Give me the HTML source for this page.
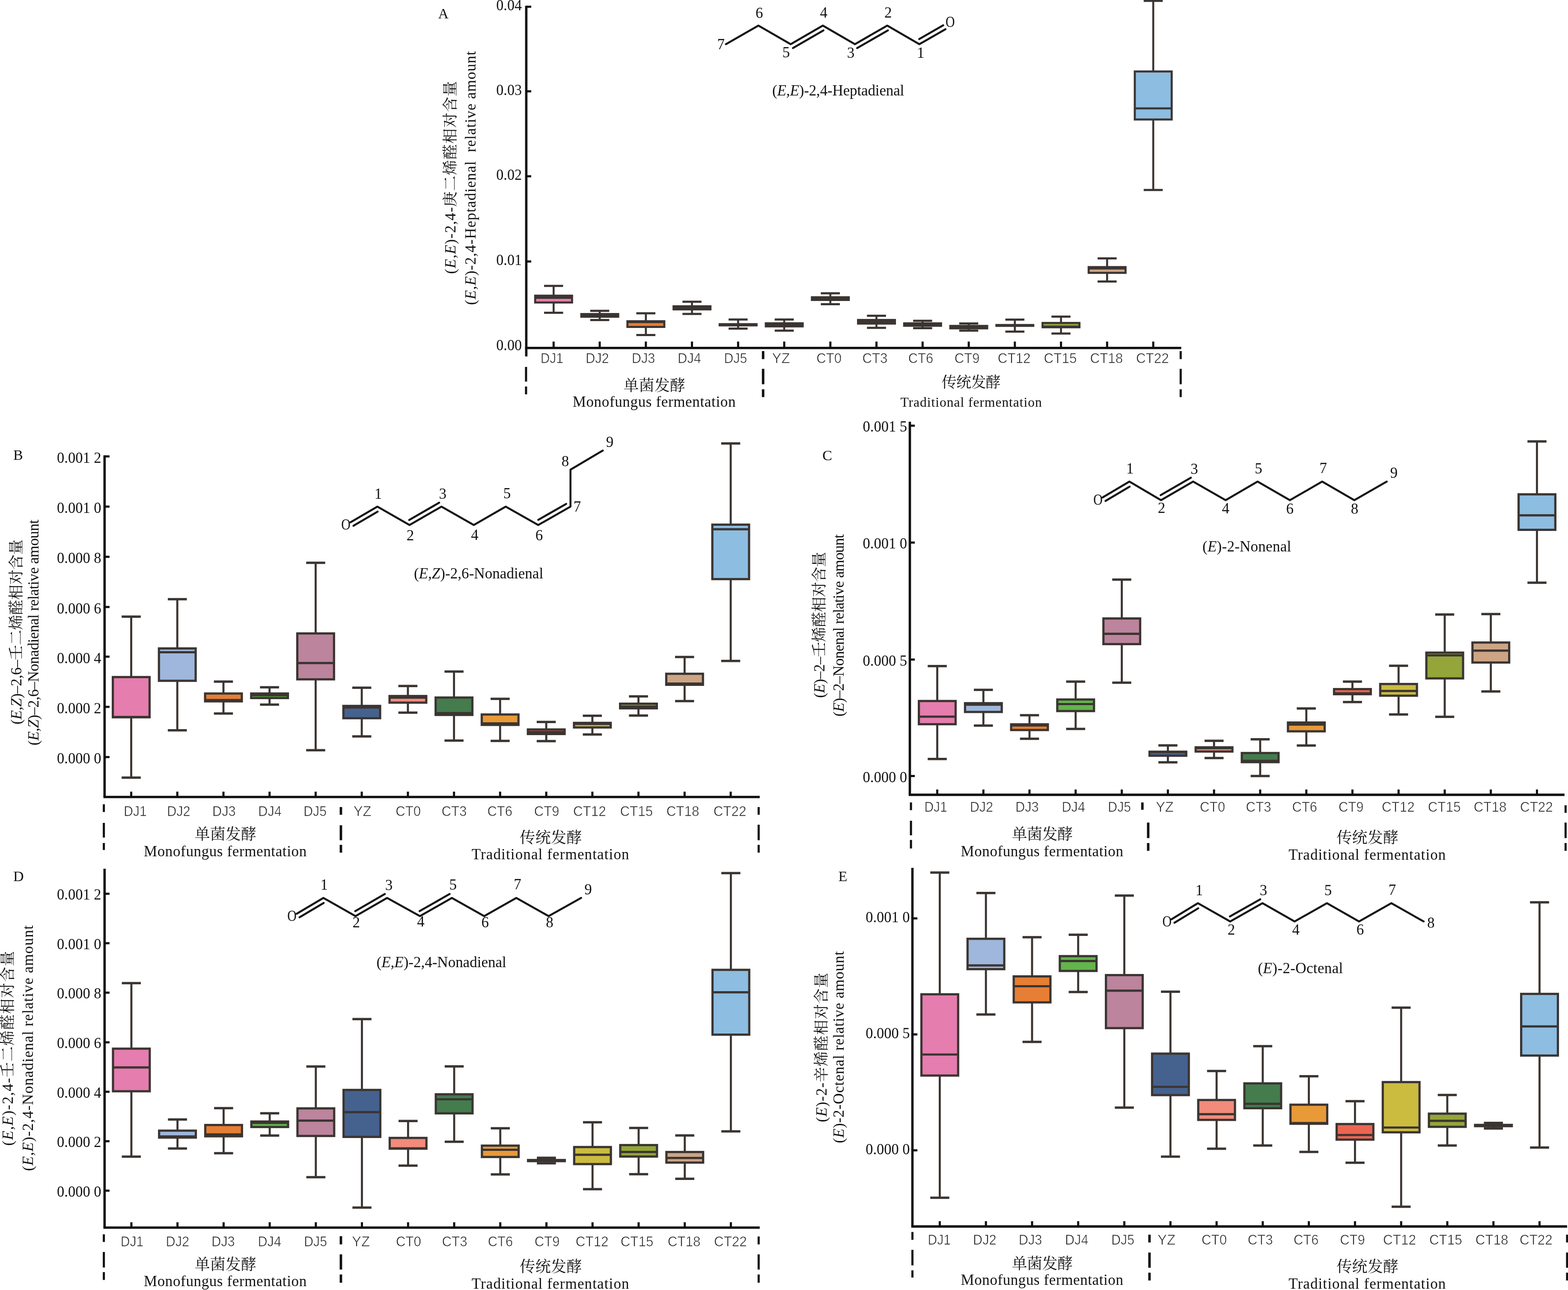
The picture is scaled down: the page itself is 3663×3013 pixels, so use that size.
<!DOCTYPE html>
<html lang="zh"><head><meta charset="utf-8"><title>Figure</title>
<style>html,body{margin:0;padding:0;background:#fff}body{width:3663px;height:3013px;overflow:hidden}svg{display:block}.s{font-family:'Liberation Serif','Noto Serif CJK SC',serif}.n{font-family:'Liberation Sans','Noto Sans CJK SC',sans-serif}text{white-space:pre}</style></head><body>
<svg width="3663" height="3013" viewBox="0 0 3663 3013">
<rect width="3663" height="3013" fill="#fff"/>
<g>
<path d="M1293.3 667.8V730.6" stroke="#3b3532" stroke-width="4.6" fill="none"/><path d="M1271 667.8H1315.5M1271 730.6H1315.5" stroke="#3b3532" stroke-width="5" fill="none"/><rect x="1250.2" y="690.6" width="86.2" height="15.9" fill="#e57dae" stroke="#3b3532" stroke-width="4.8"/><path d="M1250.2 695.5H1336.4" stroke="#3b3532" stroke-width="4.8"/>
<path d="M1401 726V747.4" stroke="#3b3532" stroke-width="4.6" fill="none"/><path d="M1378.8 726H1423.3M1378.8 747.4H1423.3" stroke="#3b3532" stroke-width="5" fill="none"/><rect x="1358" y="733.5" width="86.2" height="6.3" fill="#3b3532" stroke="#3b3532" stroke-width="4.8"/>
<path d="M1508.8 731.7V782.5" stroke="#3b3532" stroke-width="4.6" fill="none"/><path d="M1486.5 731.7H1531M1486.5 782.5H1531" stroke="#3b3532" stroke-width="5" fill="none"/><rect x="1465.7" y="750.3" width="86.2" height="13.3" fill="#e67e35" stroke="#3b3532" stroke-width="4.8"/><path d="M1465.7 752.3H1551.9" stroke="#3b3532" stroke-width="4.8"/>
<path d="M1616.5 704.7V733.3" stroke="#3b3532" stroke-width="4.6" fill="none"/><path d="M1594.3 704.7H1638.8M1594.3 733.3H1638.8" stroke="#3b3532" stroke-width="5" fill="none"/><rect x="1573.5" y="715.4" width="86.2" height="7.2" fill="#3b3532" stroke="#3b3532" stroke-width="4.8"/>
<path d="M1724.3 746.3V767.4" stroke="#3b3532" stroke-width="4.6" fill="none"/><path d="M1702 746.3H1746.5M1702 767.4H1746.5" stroke="#3b3532" stroke-width="5" fill="none"/><rect x="1678.8" y="754.7" width="91" height="7.7" fill="#3b3532"/>
<path d="M1832 746.3V772.2" stroke="#3b3532" stroke-width="4.6" fill="none"/><path d="M1809.8 746.3H1854.3M1809.8 772.2H1854.3" stroke="#3b3532" stroke-width="5" fill="none"/><rect x="1789" y="755.1" width="86.2" height="7.2" fill="#3b3532" stroke="#3b3532" stroke-width="4.8"/>
<path d="M1939.8 685V710.6" stroke="#3b3532" stroke-width="4.6" fill="none"/><path d="M1917.5 685H1962M1917.5 710.6H1962" stroke="#3b3532" stroke-width="5" fill="none"/><rect x="1896.7" y="694.3" width="86.2" height="6.3" fill="#3b3532" stroke="#3b3532" stroke-width="4.8"/>
<path d="M2047.5 737.6V765.8" stroke="#3b3532" stroke-width="4.6" fill="none"/><path d="M2025.3 737.6H2069.8M2025.3 765.8H2069.8" stroke="#3b3532" stroke-width="5" fill="none"/><rect x="2004.5" y="747.3" width="86.2" height="8.5" fill="#3b3532" stroke="#3b3532" stroke-width="4.8"/>
<path d="M2155.3 749.3V766.4" stroke="#3b3532" stroke-width="4.6" fill="none"/><path d="M2133.1 749.3H2177.6M2133.1 766.4H2177.6" stroke="#3b3532" stroke-width="5" fill="none"/><rect x="2112.2" y="755.2" width="86.2" height="5.7" fill="#3b3532" stroke="#3b3532" stroke-width="4.8"/>
<path d="M2263.1 755.5V772.3" stroke="#3b3532" stroke-width="4.6" fill="none"/><path d="M2240.8 755.5H2285.3M2240.8 772.3H2285.3" stroke="#3b3532" stroke-width="5" fill="none"/><rect x="2220" y="761.2" width="86.2" height="5.7" fill="#3b3532" stroke="#3b3532" stroke-width="4.8"/>
<path d="M2370.8 746.5V774.4" stroke="#3b3532" stroke-width="4.6" fill="none"/><path d="M2348.6 746.5H2393.1M2348.6 774.4H2393.1" stroke="#3b3532" stroke-width="5" fill="none"/><rect x="2325.3" y="756.7" width="91" height="6.8" fill="#3b3532"/>
<path d="M2478.6 739.5V779" stroke="#3b3532" stroke-width="4.6" fill="none"/><path d="M2456.3 739.5H2500.8M2456.3 779H2500.8" stroke="#3b3532" stroke-width="5" fill="none"/><rect x="2435.5" y="754.3" width="86.2" height="10.1" fill="#94a53a" stroke="#3b3532" stroke-width="4.8"/><path d="M2435.5 763H2521.7" stroke="#3b3532" stroke-width="4.8"/>
<path d="M2586.3 603.5V657.6" stroke="#3b3532" stroke-width="4.6" fill="none"/><path d="M2564.1 603.5H2608.6M2564.1 657.6H2608.6" stroke="#3b3532" stroke-width="5" fill="none"/><rect x="2543.2" y="623.8" width="86.2" height="13.5" fill="#cda585" stroke="#3b3532" stroke-width="4.8"/><path d="M2543.2 627.1H2629.4" stroke="#3b3532" stroke-width="4.8"/>
<path d="M2694.1 2.1V443.7" stroke="#3b3532" stroke-width="4.6" fill="none"/><path d="M2671.8 2.1H2716.3M2671.8 443.7H2716.3" stroke="#3b3532" stroke-width="5" fill="none"/><rect x="2651" y="166.9" width="86.2" height="112.2" fill="#8dbde1" stroke="#3b3532" stroke-width="4.8"/><path d="M2651 253.2H2737.2" stroke="#3b3532" stroke-width="4.8"/>
<path d="M1229.4 13.6V832.4" stroke="#111111" stroke-width="5.6" fill="none"/>
<path d="M1226.7 812.8H2759.5" stroke="#111111" stroke-width="5.6" fill="none"/>
<path d="M1229.4 15.8H1241M1229.4 213.2H1241M1229.4 411.8H1241M1229.4 610.7H1241" stroke="#111111" stroke-width="5.0" fill="none"/>
<text class="s" x="1219" y="24.4" font-size="35.5" text-anchor="end" textLength="59.7" lengthAdjust="spacingAndGlyphs" fill="#111">0.04</text>
<text class="s" x="1219" y="221.8" font-size="35.5" text-anchor="end" textLength="59.7" lengthAdjust="spacingAndGlyphs" fill="#111">0.03</text>
<text class="s" x="1219" y="420.4" font-size="35.5" text-anchor="end" textLength="59.7" lengthAdjust="spacingAndGlyphs" fill="#111">0.02</text>
<text class="s" x="1219" y="619.3" font-size="35.5" text-anchor="end" textLength="59.7" lengthAdjust="spacingAndGlyphs" fill="#111">0.01</text>
<text class="s" x="1219" y="817.6" font-size="35.5" text-anchor="end" textLength="59.7" lengthAdjust="spacingAndGlyphs" fill="#111">0.00</text>
<path d="M1293.3 797.7V812.8M1401 797.7V812.8M1508.8 797.7V812.8M1616.5 797.7V812.8M1724.3 797.7V812.8M1832 797.7V812.8M1939.8 797.7V812.8M2047.5 797.7V812.8M2155.3 797.7V812.8M2263.1 797.7V812.8M2370.8 797.7V812.8M2478.6 797.7V812.8M2586.3 797.7V812.8M2694.1 797.7V812.8" stroke="#111111" stroke-width="5.0" fill="none"/>
<text class="n" x="1289.3" y="848" font-size="32.5" text-anchor="middle" textLength="53.3" lengthAdjust="spacingAndGlyphs" fill="#262626" stroke="#fff" stroke-width="0.7">DJ1</text>
<text class="n" x="1395.4" y="848" font-size="32.5" text-anchor="middle" textLength="54.5" lengthAdjust="spacingAndGlyphs" fill="#262626" stroke="#fff" stroke-width="0.7">DJ2</text>
<text class="n" x="1503.1" y="848" font-size="32.5" text-anchor="middle" textLength="54.5" lengthAdjust="spacingAndGlyphs" fill="#262626" stroke="#fff" stroke-width="0.7">DJ3</text>
<text class="n" x="1610.5" y="848" font-size="32.5" text-anchor="middle" textLength="54.5" lengthAdjust="spacingAndGlyphs" fill="#262626" stroke="#fff" stroke-width="0.7">DJ4</text>
<text class="n" x="1718.4" y="848" font-size="32.5" text-anchor="middle" textLength="53.7" lengthAdjust="spacingAndGlyphs" fill="#262626" stroke="#fff" stroke-width="0.7">DJ5</text>
<text class="n" x="1824.5" y="848" font-size="32.5" text-anchor="middle" textLength="42" lengthAdjust="spacingAndGlyphs" fill="#262626" stroke="#fff" stroke-width="0.7">YZ</text>
<text class="n" x="1936.7" y="848" font-size="32.5" text-anchor="middle" textLength="59" lengthAdjust="spacingAndGlyphs" fill="#262626" stroke="#fff" stroke-width="0.7">CT0</text>
<text class="n" x="2043.9" y="848" font-size="32.5" text-anchor="middle" textLength="59" lengthAdjust="spacingAndGlyphs" fill="#262626" stroke="#fff" stroke-width="0.7">CT3</text>
<text class="n" x="2150.9" y="848" font-size="32.5" text-anchor="middle" textLength="58.5" lengthAdjust="spacingAndGlyphs" fill="#262626" stroke="#fff" stroke-width="0.7">CT6</text>
<text class="n" x="2259.2" y="848" font-size="32.5" text-anchor="middle" textLength="58.7" lengthAdjust="spacingAndGlyphs" fill="#262626" stroke="#fff" stroke-width="0.7">CT9</text>
<text class="n" x="2369.2" y="848" font-size="32.5" text-anchor="middle" textLength="76.8" lengthAdjust="spacingAndGlyphs" fill="#262626" stroke="#fff" stroke-width="0.7">CT12</text>
<text class="n" x="2477" y="848" font-size="32.5" text-anchor="middle" textLength="76.8" lengthAdjust="spacingAndGlyphs" fill="#262626" stroke="#fff" stroke-width="0.7">CT15</text>
<text class="n" x="2584.9" y="848" font-size="32.5" text-anchor="middle" textLength="76.8" lengthAdjust="spacingAndGlyphs" fill="#262626" stroke="#fff" stroke-width="0.7">CT18</text>
<text class="n" x="2692.3" y="848" font-size="32.5" text-anchor="middle" textLength="76.8" lengthAdjust="spacingAndGlyphs" fill="#262626" stroke="#fff" stroke-width="0.7">CT22</text>
<path d="M1228.9 857.1V891.3M1228.9 902.8V921.1" stroke="#111111" stroke-width="5" fill="none"/>
<path d="M1782.7 820.1V838.8M1782.7 861.4V897.6M1782.7 909.2V927.5" stroke="#111111" stroke-width="5.8" fill="none"/>
<path d="M2758.2 820.1V838.8M2758.2 861.4V897.6M2758.2 909.2V927.5" stroke="#111111" stroke-width="5" fill="none"/>
<text class="s" x="1456.2" y="912.5" font-size="36" textLength="144.9" lengthAdjust="spacing" fill="#111">单菌发酵</text>
<text class="s" x="1337.7" y="949.7" font-size="35" textLength="380.7" lengthAdjust="spacing" fill="#111">Monofungus fermentation</text>
<text class="s" x="2199.7" y="904.5" font-size="35" textLength="138.1" lengthAdjust="spacing" fill="#111">传统发酵</text>
<text class="s" x="2103.4" y="949.7" font-size="31.5" textLength="330.4" lengthAdjust="spacing" fill="#111">Traditional fermentation</text>
<text class="s" x="1023.4" y="42.6" font-size="34" fill="#111">A</text>
<path d="M1695.8 103.2 L1771.7 59.7 L1847.1 103.2 L1922.2 59.7 L1997.2 103.2 L2072.7 59.7 L2147.7 103.2 L2208.7 68.2" stroke="#151515" stroke-width="4.6" fill="none" stroke-linejoin="round" stroke-linecap="round"/>
<path d="M1852.4 112.3L1923.7 71" stroke="#151515" stroke-width="4.6" fill="none" stroke-linecap="round"/>
<path d="M2002.4 112.3L2074.2 71" stroke="#151515" stroke-width="4.6" fill="none" stroke-linecap="round"/>
<path d="M2147.4 91.3L2203.5 59.1" stroke="#151515" stroke-width="4.6" fill="none" stroke-linecap="round"/>
<text class="s" x="1684.3" y="115.2" font-size="35" text-anchor="middle" fill="#111">7</text>
<text class="s" x="1773.8" y="41.9" font-size="35" text-anchor="middle" fill="#111">6</text>
<text class="s" x="1836.5" y="133.5" font-size="35" text-anchor="middle" fill="#111">5</text>
<text class="s" x="1924.3" y="40.6" font-size="35" text-anchor="middle" fill="#111">4</text>
<text class="s" x="1987.4" y="134.8" font-size="35" text-anchor="middle" fill="#111">3</text>
<text class="s" x="2074.8" y="40.6" font-size="35" text-anchor="middle" fill="#111">2</text>
<text class="s" x="2150.7" y="134.8" font-size="35" text-anchor="middle" fill="#111">1</text>
<text class="s" x="2219.7" y="62.6" font-size="35" text-anchor="middle" textLength="21.5" lengthAdjust="spacingAndGlyphs" fill="#111">O</text>
<text class="s" x="1804.1" y="222.5" font-size="35" textLength="308.2" lengthAdjust="spacing" fill="#111">(<tspan font-style="italic">E,E</tspan>)-2,4-Heptadienal</text>
<text class="s" transform="translate(1063.8 639.7) rotate(-90)" font-size="35.5" textLength="450.3" lengthAdjust="spacing" fill="#111">(<tspan font-style="italic">E,E</tspan>)-2,4-<tspan font-size="35.5">庚二烯醛相对含量</tspan></text>
<text class="s" transform="translate(1111 712.2) rotate(-90)" font-size="35.5" textLength="592.8" lengthAdjust="spacing" fill="#111">(<tspan font-style="italic">E,E</tspan>)-2,4-Heptadienal  relative amount</text>
</g>
<g>
<path d="M306.5 1440.3V1816.2" stroke="#3b3532" stroke-width="4.8" fill="none"/><path d="M284.2 1440.3H328.8M284.2 1816.2H328.8" stroke="#3b3532" stroke-width="5.5" fill="none"/><rect x="263.6" y="1581.4" width="85.8" height="93.9" fill="#e57dae" stroke="#3b3532" stroke-width="5.2"/><path d="M263.6 1674.5H349.4" stroke="#3b3532" stroke-width="5.2"/>
<path d="M414.2 1399.4V1705.8" stroke="#3b3532" stroke-width="4.8" fill="none"/><path d="M392 1399.4H436.5M392 1705.8H436.5" stroke="#3b3532" stroke-width="5.5" fill="none"/><rect x="371.3" y="1514.5" width="85.8" height="75.6" fill="#9fb7dc" stroke="#3b3532" stroke-width="5.2"/><path d="M371.3 1523.4H457.1" stroke="#3b3532" stroke-width="5.2"/>
<path d="M522 1592.1V1666.6" stroke="#3b3532" stroke-width="4.8" fill="none"/><path d="M499.7 1592.1H544.2M499.7 1666.6H544.2" stroke="#3b3532" stroke-width="5.5" fill="none"/><rect x="479.1" y="1619.8" width="85.8" height="18.3" fill="#e67e35" stroke="#3b3532" stroke-width="5.2"/><path d="M479.1 1635H564.9" stroke="#3b3532" stroke-width="5.2"/>
<path d="M629.7 1605.3V1645.7" stroke="#3b3532" stroke-width="4.8" fill="none"/><path d="M607.4 1605.3H651.9M607.4 1645.7H651.9" stroke="#3b3532" stroke-width="5.5" fill="none"/><rect x="586.8" y="1619.8" width="85.8" height="10.6" fill="#62b54b" stroke="#3b3532" stroke-width="5.2"/><path d="M586.8 1624H672.6" stroke="#3b3532" stroke-width="5.2"/>
<path d="M737.4 1314.5V1752.3" stroke="#3b3532" stroke-width="4.8" fill="none"/><path d="M715.2 1314.5H759.7M715.2 1752.3H759.7" stroke="#3b3532" stroke-width="5.5" fill="none"/><rect x="694.5" y="1479.5" width="85.8" height="107.2" fill="#bc849d" stroke="#3b3532" stroke-width="5.2"/><path d="M694.5 1548.6H780.3" stroke="#3b3532" stroke-width="5.2"/>
<path d="M845.1 1606.2V1719.9" stroke="#3b3532" stroke-width="4.8" fill="none"/><path d="M822.9 1606.2H867.4M822.9 1719.9H867.4" stroke="#3b3532" stroke-width="5.5" fill="none"/><rect x="802.2" y="1648.8" width="85.8" height="28.7" fill="#45628f" stroke="#3b3532" stroke-width="5.2"/><path d="M802.2 1652.3H888" stroke="#3b3532" stroke-width="5.2"/>
<path d="M952.9 1602.3V1664.4" stroke="#3b3532" stroke-width="4.8" fill="none"/><path d="M930.6 1602.3H975.1M930.6 1664.4H975.1" stroke="#3b3532" stroke-width="5.5" fill="none"/><rect x="910" y="1625.7" width="85.8" height="15.4" fill="#f28b7b" stroke="#3b3532" stroke-width="5.2"/><path d="M910 1629.5H995.8" stroke="#3b3532" stroke-width="5.2"/>
<path d="M1060.6 1568.6V1729.7" stroke="#3b3532" stroke-width="4.8" fill="none"/><path d="M1038.4 1568.6H1082.9M1038.4 1729.7H1082.9" stroke="#3b3532" stroke-width="5.5" fill="none"/><rect x="1017.7" y="1629.2" width="85.8" height="40.6" fill="#447c4d" stroke="#3b3532" stroke-width="5.2"/><path d="M1017.7 1665.7H1103.5" stroke="#3b3532" stroke-width="5.2"/>
<path d="M1168.3 1632.2V1730.5" stroke="#3b3532" stroke-width="4.8" fill="none"/><path d="M1146.1 1632.2H1190.6M1146.1 1730.5H1190.6" stroke="#3b3532" stroke-width="5.5" fill="none"/><rect x="1125.4" y="1668.8" width="85.8" height="24.3" fill="#e99a38" stroke="#3b3532" stroke-width="5.2"/><path d="M1125.4 1689.5H1211.2" stroke="#3b3532" stroke-width="5.2"/>
<path d="M1276.1 1686.3V1730.9" stroke="#3b3532" stroke-width="4.8" fill="none"/><path d="M1253.8 1686.3H1298.3M1253.8 1730.9H1298.3" stroke="#3b3532" stroke-width="5.5" fill="none"/><rect x="1233.2" y="1703.8" width="85.8" height="10.6" fill="#ec6552" stroke="#3b3532" stroke-width="5.2"/><path d="M1233.2 1709.9H1319" stroke="#3b3532" stroke-width="5.2"/>
<path d="M1383.8 1671.8V1715.6" stroke="#3b3532" stroke-width="4.8" fill="none"/><path d="M1361.5 1671.8H1406M1361.5 1715.6H1406" stroke="#3b3532" stroke-width="5.5" fill="none"/><rect x="1340.9" y="1688.4" width="85.8" height="10.7" fill="#cbbb3f" stroke="#3b3532" stroke-width="5.2"/><path d="M1340.9 1690.9H1426.7" stroke="#3b3532" stroke-width="5.2"/>
<path d="M1491.5 1626.6V1671.3" stroke="#3b3532" stroke-width="4.8" fill="none"/><path d="M1469.3 1626.6H1513.8M1469.3 1671.3H1513.8" stroke="#3b3532" stroke-width="5.5" fill="none"/><rect x="1448.6" y="1643.6" width="85.8" height="10.8" fill="#94a53a" stroke="#3b3532" stroke-width="5.2"/><path d="M1448.6 1650.3H1534.4" stroke="#3b3532" stroke-width="5.2"/>
<path d="M1599.3 1534.5V1637.6" stroke="#3b3532" stroke-width="4.8" fill="none"/><path d="M1577 1534.5H1621.5M1577 1637.6H1621.5" stroke="#3b3532" stroke-width="5.5" fill="none"/><rect x="1556.4" y="1573.7" width="85.8" height="25.7" fill="#cda585" stroke="#3b3532" stroke-width="5.2"/><path d="M1556.4 1596.5H1642.2" stroke="#3b3532" stroke-width="5.2"/>
<path d="M1707 1035.7V1543.8" stroke="#3b3532" stroke-width="4.8" fill="none"/><path d="M1684.7 1035.7H1729.2M1684.7 1543.8H1729.2" stroke="#3b3532" stroke-width="5.5" fill="none"/><rect x="1664.1" y="1225.4" width="85.8" height="127.2" fill="#8dbde1" stroke="#3b3532" stroke-width="5.2"/><path d="M1664.1 1236.1H1749.9" stroke="#3b3532" stroke-width="5.2"/>
<path d="M244.3 1063.6V1861.5" stroke="#111111" stroke-width="5.6" fill="none"/>
<path d="M241.6 1861.5H1774.8" stroke="#111111" stroke-width="5.6" fill="none"/>
<path d="M244.3 1066H255.9M244.3 1183.2H255.9M244.3 1300.4H255.9M244.3 1417.7H255.9M244.3 1533.7H255.9M244.3 1650.9H255.9M244.3 1768.2H255.9" stroke="#111111" stroke-width="5.0" fill="none"/>
<text class="s" x="236.6" y="1081" font-size="35.5" text-anchor="end" textLength="103.6" lengthAdjust="spacingAndGlyphs" fill="#111">0.001 2</text>
<text class="s" x="236.6" y="1198.2" font-size="35.5" text-anchor="end" textLength="103.6" lengthAdjust="spacingAndGlyphs" fill="#111">0.001 0</text>
<text class="s" x="236.6" y="1315.4" font-size="35.5" text-anchor="end" textLength="103.6" lengthAdjust="spacingAndGlyphs" fill="#111">0.000 8</text>
<text class="s" x="236.6" y="1432.7" font-size="35.5" text-anchor="end" textLength="103.6" lengthAdjust="spacingAndGlyphs" fill="#111">0.000 6</text>
<text class="s" x="236.6" y="1548.7" font-size="35.5" text-anchor="end" textLength="103.6" lengthAdjust="spacingAndGlyphs" fill="#111">0.000 4</text>
<text class="s" x="236.6" y="1665.9" font-size="35.5" text-anchor="end" textLength="103.6" lengthAdjust="spacingAndGlyphs" fill="#111">0.000 2</text>
<text class="s" x="236.6" y="1783.2" font-size="35.5" text-anchor="end" textLength="103.6" lengthAdjust="spacingAndGlyphs" fill="#111">0.000 0</text>
<path d="M306.5 1849.1V1861.5M414.2 1849.1V1861.5M522 1849.1V1861.5M629.7 1849.1V1861.5M737.4 1849.1V1861.5M845.1 1849.1V1861.5M952.9 1849.1V1861.5M1060.6 1849.1V1861.5M1168.3 1849.1V1861.5M1276.1 1849.1V1861.5M1383.8 1849.1V1861.5M1491.5 1849.1V1861.5M1599.3 1849.1V1861.5M1707 1849.1V1861.5" stroke="#111111" stroke-width="5.0" fill="none"/>
<text class="n" x="315.9" y="1905.7" font-size="32.5" text-anchor="middle" textLength="53.3" lengthAdjust="spacingAndGlyphs" fill="#262626" stroke="#fff" stroke-width="0.7">DJ1</text>
<text class="n" x="417.4" y="1905.7" font-size="32.5" text-anchor="middle" textLength="54.5" lengthAdjust="spacingAndGlyphs" fill="#262626" stroke="#fff" stroke-width="0.7">DJ2</text>
<text class="n" x="523.3" y="1905.7" font-size="32.5" text-anchor="middle" textLength="54.5" lengthAdjust="spacingAndGlyphs" fill="#262626" stroke="#fff" stroke-width="0.7">DJ3</text>
<text class="n" x="630.5" y="1905.7" font-size="32.5" text-anchor="middle" textLength="54.5" lengthAdjust="spacingAndGlyphs" fill="#262626" stroke="#fff" stroke-width="0.7">DJ4</text>
<text class="n" x="736.1" y="1905.7" font-size="32.5" text-anchor="middle" textLength="53.7" lengthAdjust="spacingAndGlyphs" fill="#262626" stroke="#fff" stroke-width="0.7">DJ5</text>
<text class="n" x="846.7" y="1905.7" font-size="32.5" text-anchor="middle" textLength="42" lengthAdjust="spacingAndGlyphs" fill="#262626" stroke="#fff" stroke-width="0.7">YZ</text>
<text class="n" x="953.7" y="1905.7" font-size="32.5" text-anchor="middle" textLength="59" lengthAdjust="spacingAndGlyphs" fill="#262626" stroke="#fff" stroke-width="0.7">CT0</text>
<text class="n" x="1060.9" y="1905.7" font-size="32.5" text-anchor="middle" textLength="59" lengthAdjust="spacingAndGlyphs" fill="#262626" stroke="#fff" stroke-width="0.7">CT3</text>
<text class="n" x="1167.7" y="1905.7" font-size="32.5" text-anchor="middle" textLength="58.5" lengthAdjust="spacingAndGlyphs" fill="#262626" stroke="#fff" stroke-width="0.7">CT6</text>
<text class="n" x="1277.1" y="1905.7" font-size="32.5" text-anchor="middle" textLength="58.7" lengthAdjust="spacingAndGlyphs" fill="#262626" stroke="#fff" stroke-width="0.7">CT9</text>
<text class="n" x="1377.3" y="1905.7" font-size="32.5" text-anchor="middle" textLength="76.8" lengthAdjust="spacingAndGlyphs" fill="#262626" stroke="#fff" stroke-width="0.7">CT12</text>
<text class="n" x="1486.8" y="1905.7" font-size="32.5" text-anchor="middle" textLength="76.8" lengthAdjust="spacingAndGlyphs" fill="#262626" stroke="#fff" stroke-width="0.7">CT15</text>
<text class="n" x="1595.1" y="1905.7" font-size="32.5" text-anchor="middle" textLength="76.8" lengthAdjust="spacingAndGlyphs" fill="#262626" stroke="#fff" stroke-width="0.7">CT18</text>
<text class="n" x="1705.1" y="1905.7" font-size="32.5" text-anchor="middle" textLength="76.8" lengthAdjust="spacingAndGlyphs" fill="#262626" stroke="#fff" stroke-width="0.7">CT22</text>
<path d="M242.6 1878.6V1896.5M242.6 1922.1V1956.2M242.6 1969V1985.2" stroke="#111111" stroke-width="5" fill="none"/>
<path d="M796.4 1885V1902.9M796.4 1927.6V1962.6M796.4 1973.2V1991.6" stroke="#111111" stroke-width="5.8" fill="none"/>
<path d="M1772.3 1885V1902.9M1772.3 1926.3V1962.6M1772.3 1973.2V1991.6" stroke="#111111" stroke-width="5" fill="none"/>
<text class="s" x="454.5" y="1961" font-size="36" textLength="144.5" lengthAdjust="spacing" fill="#111">单菌发酵</text>
<text class="s" x="336" y="1999.7" font-size="35" textLength="380.2" lengthAdjust="spacing" fill="#111">Monofungus fermentation</text>
<text class="s" x="1214.2" y="1968.5" font-size="36" textLength="145.4" lengthAdjust="spacing" fill="#111">传统发酵</text>
<text class="s" x="1101.7" y="2007.3" font-size="35" textLength="367.9" lengthAdjust="spacing" fill="#111">Traditional fermentation</text>
<text class="s" x="31" y="1073.6" font-size="34" fill="#111">B</text>
<path d="M819.1 1219.8 L881.6 1183.2 L956.7 1226.3 L1031.3 1183.2 L1106.8 1226.3 L1181.4 1183.2 L1257.3 1226.3 L1332.7 1183.2 L1332.7 1097.1 L1408.2 1052.3" stroke="#151515" stroke-width="4.6" fill="none" stroke-linejoin="round" stroke-linecap="round"/>
<path d="M825.7 1228.1L882.2 1195" stroke="#151515" stroke-width="4.6" fill="none" stroke-linecap="round"/>
<path d="M955.9 1214.6L1026 1174.1" stroke="#151515" stroke-width="4.6" fill="none" stroke-linecap="round"/>
<path d="M1257.4 1214.2L1322.6 1176.9" stroke="#151515" stroke-width="4.6" fill="none" stroke-linecap="round"/>
<text class="s" x="883.4" y="1164.5" font-size="35" text-anchor="middle" fill="#111">1</text>
<text class="s" x="808" y="1236.6" font-size="35" text-anchor="middle" textLength="21.5" lengthAdjust="spacingAndGlyphs" fill="#111">O</text>
<text class="s" x="958.4" y="1261.7" font-size="35" text-anchor="middle" fill="#111">2</text>
<text class="s" x="1034.3" y="1165.4" font-size="35" text-anchor="middle" fill="#111">3</text>
<text class="s" x="1108.9" y="1260.9" font-size="35" text-anchor="middle" fill="#111">4</text>
<text class="s" x="1184.4" y="1163.7" font-size="35" text-anchor="middle" fill="#111">5</text>
<text class="s" x="1259.4" y="1261.7" font-size="35" text-anchor="middle" fill="#111">6</text>
<text class="s" x="1348.5" y="1195.2" font-size="35" text-anchor="middle" fill="#111">7</text>
<text class="s" x="1320.4" y="1088.7" font-size="35" text-anchor="middle" fill="#111">8</text>
<text class="s" x="1424.4" y="1043.9" font-size="35" text-anchor="middle" fill="#111">9</text>
<text class="s" x="966.9" y="1350.8" font-size="35" textLength="302.3" lengthAdjust="spacing" fill="#111">(<tspan font-style="italic">E,Z</tspan>)-2,6-Nonadienal</text>
<text class="s" transform="translate(49.7 1692) rotate(-90)" font-size="35.5" textLength="432" lengthAdjust="spacing" fill="#111">(<tspan font-style="italic">E,Z</tspan>)–2,6–<tspan font-size="35.5">壬二烯醛相对含量</tspan></text>
<text class="s" transform="translate(89.6 1741) rotate(-90)" font-size="35.5" textLength="527.5" lengthAdjust="spacing" fill="#111">(<tspan font-style="italic">E,Z</tspan>)–2,6–Nonadienal relative amount</text>
</g>
<g>
<path d="M2189.5 1555.8V1772.7" stroke="#3b3532" stroke-width="4.8" fill="none"/><path d="M2167.2 1555.8H2211.8M2167.2 1772.7H2211.8" stroke="#3b3532" stroke-width="5.5" fill="none"/><rect x="2146.6" y="1637.3" width="85.8" height="54.2" fill="#e57dae" stroke="#3b3532" stroke-width="5.2"/><path d="M2146.6 1673.9H2232.4" stroke="#3b3532" stroke-width="5.2"/>
<path d="M2297.3 1611.3V1694.7" stroke="#3b3532" stroke-width="4.8" fill="none"/><path d="M2275 1611.3H2319.5M2275 1694.7H2319.5" stroke="#3b3532" stroke-width="5.5" fill="none"/><rect x="2254.4" y="1642.4" width="85.8" height="20.5" fill="#9fb7dc" stroke="#3b3532" stroke-width="5.2"/><path d="M2254.4 1646H2340.2" stroke="#3b3532" stroke-width="5.2"/>
<path d="M2405 1670.5V1725.4" stroke="#3b3532" stroke-width="4.8" fill="none"/><path d="M2382.8 1670.5H2427.3M2382.8 1725.4H2427.3" stroke="#3b3532" stroke-width="5.5" fill="none"/><rect x="2362.1" y="1691.8" width="85.8" height="13.3" fill="#e67e35" stroke="#3b3532" stroke-width="5.2"/><path d="M2362.1 1694.3H2447.9" stroke="#3b3532" stroke-width="5.2"/>
<path d="M2512.8 1592.1V1702.4" stroke="#3b3532" stroke-width="4.8" fill="none"/><path d="M2490.6 1592.1H2535.1M2490.6 1702.4H2535.1" stroke="#3b3532" stroke-width="5.5" fill="none"/><rect x="2469.9" y="1633.8" width="85.8" height="27" fill="#62b54b" stroke="#3b3532" stroke-width="5.2"/><path d="M2469.9 1644.5H2555.7" stroke="#3b3532" stroke-width="5.2"/>
<path d="M2620.6 1353.7V1594.5" stroke="#3b3532" stroke-width="4.8" fill="none"/><path d="M2598.3 1353.7H2642.8M2598.3 1594.5H2642.8" stroke="#3b3532" stroke-width="5.5" fill="none"/><rect x="2577.7" y="1444.5" width="85.8" height="59.9" fill="#bc849d" stroke="#3b3532" stroke-width="5.2"/><path d="M2577.7 1480.4H2663.5" stroke="#3b3532" stroke-width="5.2"/>
<path d="M2728.3 1740.9V1780.4" stroke="#3b3532" stroke-width="4.8" fill="none"/><path d="M2706.1 1740.9H2750.6M2706.1 1780.4H2750.6" stroke="#3b3532" stroke-width="5.5" fill="none"/><rect x="2685.4" y="1755.8" width="85.8" height="9.3" fill="#45628f" stroke="#3b3532" stroke-width="5.2"/><path d="M2685.4 1756.3H2771.2" stroke="#3b3532" stroke-width="5.2"/>
<path d="M2836.1 1730.2V1770.6" stroke="#3b3532" stroke-width="4.8" fill="none"/><path d="M2813.9 1730.2H2858.4M2813.9 1770.6H2858.4" stroke="#3b3532" stroke-width="5.5" fill="none"/><rect x="2793.2" y="1745.5" width="85.8" height="9.8" fill="#f28b7b" stroke="#3b3532" stroke-width="5.2"/><path d="M2793.2 1747.3H2879" stroke="#3b3532" stroke-width="5.2"/>
<path d="M2943.9 1726.8V1812.4" stroke="#3b3532" stroke-width="4.8" fill="none"/><path d="M2921.6 1726.8H2966.1M2921.6 1812.4H2966.1" stroke="#3b3532" stroke-width="5.5" fill="none"/><rect x="2901" y="1758.8" width="85.8" height="21.3" fill="#447c4d" stroke="#3b3532" stroke-width="5.2"/><path d="M2901 1777H2986.8" stroke="#3b3532" stroke-width="5.2"/>
<path d="M3051.7 1654.8V1741.2" stroke="#3b3532" stroke-width="4.8" fill="none"/><path d="M3029.4 1654.8H3073.9M3029.4 1741.2H3073.9" stroke="#3b3532" stroke-width="5.5" fill="none"/><rect x="3008.8" y="1687.6" width="85.8" height="20.5" fill="#e99a38" stroke="#3b3532" stroke-width="5.2"/><path d="M3008.8 1692.5H3094.6" stroke="#3b3532" stroke-width="5.2"/>
<path d="M3159.4 1592.1V1639.7" stroke="#3b3532" stroke-width="4.8" fill="none"/><path d="M3137.2 1592.1H3181.7M3137.2 1639.7H3181.7" stroke="#3b3532" stroke-width="5.5" fill="none"/><rect x="3116.5" y="1609.5" width="85.8" height="11.9" fill="#ec6552" stroke="#3b3532" stroke-width="5.2"/><path d="M3116.5 1619.4H3202.3" stroke="#3b3532" stroke-width="5.2"/>
<path d="M3267.2 1555V1668.7" stroke="#3b3532" stroke-width="4.8" fill="none"/><path d="M3244.9 1555H3289.4M3244.9 1668.7H3289.4" stroke="#3b3532" stroke-width="5.5" fill="none"/><rect x="3224.3" y="1597.6" width="85.8" height="27.3" fill="#cbbb3f" stroke="#3b3532" stroke-width="5.2"/><path d="M3224.3 1613.8H3310.1" stroke="#3b3532" stroke-width="5.2"/>
<path d="M3375 1435.2V1674.2" stroke="#3b3532" stroke-width="4.8" fill="none"/><path d="M3352.7 1435.2H3397.2M3352.7 1674.2H3397.2" stroke="#3b3532" stroke-width="5.5" fill="none"/><rect x="3332.1" y="1524.3" width="85.8" height="60.2" fill="#94a53a" stroke="#3b3532" stroke-width="5.2"/><path d="M3332.1 1530.7H3417.9" stroke="#3b3532" stroke-width="5.2"/>
<path d="M3482.7 1434.3V1615" stroke="#3b3532" stroke-width="4.8" fill="none"/><path d="M3460.5 1434.3H3505M3460.5 1615H3505" stroke="#3b3532" stroke-width="5.5" fill="none"/><rect x="3439.8" y="1500.7" width="85.8" height="46.7" fill="#cda585" stroke="#3b3532" stroke-width="5.2"/><path d="M3439.8 1519.6H3525.6" stroke="#3b3532" stroke-width="5.2"/>
<path d="M3590.5 1031V1360.9" stroke="#3b3532" stroke-width="4.8" fill="none"/><path d="M3568.3 1031H3612.8M3568.3 1360.9H3612.8" stroke="#3b3532" stroke-width="5.5" fill="none"/><rect x="3547.6" y="1154.6" width="85.8" height="82.9" fill="#8dbde1" stroke="#3b3532" stroke-width="5.2"/><path d="M3547.6 1203.7H3633.4" stroke="#3b3532" stroke-width="5.2"/>
<path d="M2125.5 985V1856.4" stroke="#111111" stroke-width="5.6" fill="none"/>
<path d="M2122.8 1856.4H3654.9" stroke="#111111" stroke-width="5.6" fill="none"/>
<path d="M2125.5 994.3H2137.1M2125.5 1267.2H2137.1M2125.5 1540.5H2137.1M2125.5 1812.5H2137.1" stroke="#111111" stroke-width="5.0" fill="none"/>
<text class="s" x="2119.1" y="1008.3" font-size="35.5" text-anchor="end" textLength="103.6" lengthAdjust="spacingAndGlyphs" fill="#111">0.001 5</text>
<text class="s" x="2119.1" y="1281.2" font-size="35.5" text-anchor="end" textLength="103.6" lengthAdjust="spacingAndGlyphs" fill="#111">0.001 0</text>
<text class="s" x="2119.1" y="1554.5" font-size="35.5" text-anchor="end" textLength="103.6" lengthAdjust="spacingAndGlyphs" fill="#111">0.000 5</text>
<text class="s" x="2119.1" y="1826.5" font-size="35.5" text-anchor="end" textLength="103.6" lengthAdjust="spacingAndGlyphs" fill="#111">0.000 0</text>
<path d="M2189.5 1844V1856.4M2297.3 1844V1856.4M2405 1844V1856.4M2512.8 1844V1856.4M2620.6 1844V1856.4M2728.3 1844V1856.4M2836.1 1844V1856.4M2943.9 1844V1856.4M3051.7 1844V1856.4M3159.4 1844V1856.4M3267.2 1844V1856.4M3375 1844V1856.4M3482.7 1844V1856.4M3590.5 1844V1856.4" stroke="#111111" stroke-width="5.0" fill="none"/>
<text class="n" x="2186.1" y="1895.5" font-size="32.5" text-anchor="middle" textLength="53.3" lengthAdjust="spacingAndGlyphs" fill="#262626" stroke="#fff" stroke-width="0.7">DJ1</text>
<text class="n" x="2292.9" y="1895.5" font-size="32.5" text-anchor="middle" textLength="54.5" lengthAdjust="spacingAndGlyphs" fill="#262626" stroke="#fff" stroke-width="0.7">DJ2</text>
<text class="n" x="2399.4" y="1895.5" font-size="32.5" text-anchor="middle" textLength="54.5" lengthAdjust="spacingAndGlyphs" fill="#262626" stroke="#fff" stroke-width="0.7">DJ3</text>
<text class="n" x="2507.7" y="1895.5" font-size="32.5" text-anchor="middle" textLength="54.5" lengthAdjust="spacingAndGlyphs" fill="#262626" stroke="#fff" stroke-width="0.7">DJ4</text>
<text class="n" x="2615.2" y="1895.5" font-size="32.5" text-anchor="middle" textLength="53.7" lengthAdjust="spacingAndGlyphs" fill="#262626" stroke="#fff" stroke-width="0.7">DJ5</text>
<text class="n" x="2720.9" y="1895.5" font-size="32.5" text-anchor="middle" textLength="42" lengthAdjust="spacingAndGlyphs" fill="#262626" stroke="#fff" stroke-width="0.7">YZ</text>
<text class="n" x="2832.5" y="1895.5" font-size="32.5" text-anchor="middle" textLength="59" lengthAdjust="spacingAndGlyphs" fill="#262626" stroke="#fff" stroke-width="0.7">CT0</text>
<text class="n" x="2940.1" y="1895.5" font-size="32.5" text-anchor="middle" textLength="59" lengthAdjust="spacingAndGlyphs" fill="#262626" stroke="#fff" stroke-width="0.7">CT3</text>
<text class="n" x="3047.8" y="1895.5" font-size="32.5" text-anchor="middle" textLength="58.5" lengthAdjust="spacingAndGlyphs" fill="#262626" stroke="#fff" stroke-width="0.7">CT6</text>
<text class="n" x="3156.3" y="1895.5" font-size="32.5" text-anchor="middle" textLength="58.7" lengthAdjust="spacingAndGlyphs" fill="#262626" stroke="#fff" stroke-width="0.7">CT9</text>
<text class="n" x="3266.3" y="1895.5" font-size="32.5" text-anchor="middle" textLength="76.8" lengthAdjust="spacingAndGlyphs" fill="#262626" stroke="#fff" stroke-width="0.7">CT12</text>
<text class="n" x="3374.1" y="1895.5" font-size="32.5" text-anchor="middle" textLength="76.8" lengthAdjust="spacingAndGlyphs" fill="#262626" stroke="#fff" stroke-width="0.7">CT15</text>
<text class="n" x="3481.1" y="1895.5" font-size="32.5" text-anchor="middle" textLength="76.8" lengthAdjust="spacingAndGlyphs" fill="#262626" stroke="#fff" stroke-width="0.7">CT18</text>
<text class="n" x="3589.4" y="1895.5" font-size="32.5" text-anchor="middle" textLength="76.8" lengthAdjust="spacingAndGlyphs" fill="#262626" stroke="#fff" stroke-width="0.7">CT22</text>
<path d="M2128.1 1874.3V1892.2M2128.1 1917V1951M2128.1 1961.7V1981.8" stroke="#111111" stroke-width="5" fill="none"/>
<path d="M2668.7 1874.3V1891.4" stroke="#111111" stroke-width="5.8" fill="none"/>
<path d="M2682.3 1921.2V1957.5M2682.3 1969V1987.3" stroke="#111111" stroke-width="5.8" fill="none"/>
<path d="M3657.4 1880.7V1898.6M3657.4 1921.2V1957.5M3657.4 1969V1987.3" stroke="#111111" stroke-width="5" fill="none"/>
<text class="s" x="2363.4" y="1961" font-size="36" textLength="142.8" lengthAdjust="spacing" fill="#111">单菌发酵</text>
<text class="s" x="2244.5" y="1999.7" font-size="35" textLength="379.4" lengthAdjust="spacing" fill="#111">Monofungus fermentation</text>
<text class="s" x="3122.4" y="1968.5" font-size="36" textLength="144.5" lengthAdjust="spacing" fill="#111">传统发酵</text>
<text class="s" x="3010.3" y="2008.2" font-size="35" textLength="367" lengthAdjust="spacing" fill="#111">Traditional fermentation</text>
<text class="s" x="1921.3" y="1074.9" font-size="34" fill="#111">C</text>
<path d="M2576 1161.8 L2638.4 1124.8 L2712.2 1168.3 L2787.3 1124.8 L2863.2 1168.3 L2937.8 1124.8 L3013.3 1168.3 L3088.7 1124.8 L3163.8 1168.3 L3239.6 1124.8" stroke="#151515" stroke-width="4.6" fill="none" stroke-linejoin="round" stroke-linecap="round"/>
<path d="M2582.6 1170.1L2639.1 1136.6" stroke="#151515" stroke-width="4.6" fill="none" stroke-linecap="round"/>
<path d="M2711.4 1156.6L2782 1115.7" stroke="#151515" stroke-width="4.6" fill="none" stroke-linecap="round"/>
<text class="s" x="2639.7" y="1106.1" font-size="35" text-anchor="middle" fill="#111">1</text>
<text class="s" x="2565.1" y="1178.9" font-size="35" text-anchor="middle" textLength="21.5" lengthAdjust="spacingAndGlyphs" fill="#111">O</text>
<text class="s" x="2713.4" y="1197.8" font-size="35" text-anchor="middle" fill="#111">2</text>
<text class="s" x="2789.9" y="1107" font-size="35" text-anchor="middle" fill="#111">3</text>
<text class="s" x="2863.2" y="1198.6" font-size="35" text-anchor="middle" fill="#111">4</text>
<text class="s" x="2939.9" y="1106.1" font-size="35" text-anchor="middle" fill="#111">5</text>
<text class="s" x="3013.3" y="1199.9" font-size="35" text-anchor="middle" fill="#111">6</text>
<text class="s" x="3091.3" y="1105.3" font-size="35" text-anchor="middle" fill="#111">7</text>
<text class="s" x="3164.6" y="1199.9" font-size="35" text-anchor="middle" fill="#111">8</text>
<text class="s" x="3256.3" y="1115.9" font-size="35" text-anchor="middle" fill="#111">9</text>
<text class="s" x="2809" y="1287.7" font-size="35" textLength="207.2" lengthAdjust="spacing" fill="#111">(<tspan font-style="italic">E</tspan>)-2-Nonenal</text>
<text class="s" transform="translate(1926 1630) rotate(-90)" font-size="35.5" textLength="341" lengthAdjust="spacing" fill="#111">(<tspan font-style="italic">E</tspan>)–2–<tspan font-size="35.5">壬烯醛相对含量</tspan></text>
<text class="s" transform="translate(1971 1673.5) rotate(-90)" font-size="35.5" textLength="426" lengthAdjust="spacing" fill="#111">(<tspan font-style="italic">E</tspan>)–2–Nonenal relative amount</text>
</g>
<g>
<path d="M306.9 2296.3V2701.6" stroke="#3b3532" stroke-width="4.8" fill="none"/><path d="M284.6 2296.3H329.1M284.6 2701.6H329.1" stroke="#3b3532" stroke-width="5.5" fill="none"/><rect x="264" y="2449.3" width="85.8" height="99.5" fill="#e57dae" stroke="#3b3532" stroke-width="5.2"/><path d="M264 2493.1H349.8" stroke="#3b3532" stroke-width="5.2"/>
<path d="M414.6 2614.8V2682.4" stroke="#3b3532" stroke-width="4.8" fill="none"/><path d="M392.4 2614.8H436.9M392.4 2682.4H436.9" stroke="#3b3532" stroke-width="5.5" fill="none"/><rect x="371.7" y="2640.8" width="85.8" height="16.2" fill="#9fb7dc" stroke="#3b3532" stroke-width="5.2"/><path d="M371.7 2654.4H457.5" stroke="#3b3532" stroke-width="5.2"/>
<path d="M522.4 2588.3V2693.5" stroke="#3b3532" stroke-width="4.8" fill="none"/><path d="M500.1 2588.3H544.6M500.1 2693.5H544.6" stroke="#3b3532" stroke-width="5.5" fill="none"/><rect x="479.5" y="2627.6" width="85.8" height="26.4" fill="#e67e35" stroke="#3b3532" stroke-width="5.2"/><path d="M479.5 2649.5H565.3" stroke="#3b3532" stroke-width="5.2"/>
<path d="M630.1 2600.3V2652.2" stroke="#3b3532" stroke-width="4.8" fill="none"/><path d="M607.8 2600.3H652.3M607.8 2652.2H652.3" stroke="#3b3532" stroke-width="5.5" fill="none"/><rect x="587.2" y="2619.5" width="85.8" height="12.8" fill="#62b54b" stroke="#3b3532" stroke-width="5.2"/><path d="M587.2 2622.7H673" stroke="#3b3532" stroke-width="5.2"/>
<path d="M737.8 2491.1V2749.4" stroke="#3b3532" stroke-width="4.8" fill="none"/><path d="M715.6 2491.1H760.1M715.6 2749.4H760.1" stroke="#3b3532" stroke-width="5.5" fill="none"/><rect x="694.9" y="2588.8" width="85.8" height="64.4" fill="#bc849d" stroke="#3b3532" stroke-width="5.2"/><path d="M694.9 2617.3H780.7" stroke="#3b3532" stroke-width="5.2"/>
<path d="M845.5 2380.3V2820.6" stroke="#3b3532" stroke-width="4.8" fill="none"/><path d="M823.3 2380.3H867.8M823.3 2820.6H867.8" stroke="#3b3532" stroke-width="5.5" fill="none"/><rect x="802.6" y="2545.7" width="85.8" height="109.7" fill="#45628f" stroke="#3b3532" stroke-width="5.2"/><path d="M802.6 2597.7H888.4" stroke="#3b3532" stroke-width="5.2"/>
<path d="M953.3 2618.2V2722.5" stroke="#3b3532" stroke-width="4.8" fill="none"/><path d="M931 2618.2H975.5M931 2722.5H975.5" stroke="#3b3532" stroke-width="5.5" fill="none"/><rect x="910.4" y="2657.8" width="85.8" height="25.1" fill="#f28b7b" stroke="#3b3532" stroke-width="5.2"/><path d="M910.4 2682H996.2" stroke="#3b3532" stroke-width="5.2"/>
<path d="M1061 2490.7V2666.7" stroke="#3b3532" stroke-width="4.8" fill="none"/><path d="M1038.8 2490.7H1083.3M1038.8 2666.7H1083.3" stroke="#3b3532" stroke-width="5.5" fill="none"/><rect x="1018.1" y="2555.9" width="85.8" height="44.5" fill="#447c4d" stroke="#3b3532" stroke-width="5.2"/><path d="M1018.1 2567.5H1103.9" stroke="#3b3532" stroke-width="5.2"/>
<path d="M1168.7 2635.2V2743" stroke="#3b3532" stroke-width="4.8" fill="none"/><path d="M1146.5 2635.2H1191M1146.5 2743H1191" stroke="#3b3532" stroke-width="5.5" fill="none"/><rect x="1125.8" y="2675.8" width="85.8" height="26.5" fill="#e99a38" stroke="#3b3532" stroke-width="5.2"/><path d="M1125.8 2685.5H1211.6" stroke="#3b3532" stroke-width="5.2"/>
<path d="M1276.5 2704.3V2717" stroke="#3b3532" stroke-width="4.8" fill="none"/><path d="M1254.2 2704.3H1298.7M1254.2 2717H1298.7" stroke="#3b3532" stroke-width="5.5" fill="none"/><rect x="1231" y="2706.8" width="91" height="7.8" fill="#3b3532"/>
<path d="M1384.2 2621.2V2777.5" stroke="#3b3532" stroke-width="4.8" fill="none"/><path d="M1361.9 2621.2H1406.4M1361.9 2777.5H1406.4" stroke="#3b3532" stroke-width="5.5" fill="none"/><rect x="1341.3" y="2679.1" width="85.8" height="39.8" fill="#cbbb3f" stroke="#3b3532" stroke-width="5.2"/><path d="M1341.3 2697.1H1427.1" stroke="#3b3532" stroke-width="5.2"/>
<path d="M1491.9 2634.4V2742.5" stroke="#3b3532" stroke-width="4.8" fill="none"/><path d="M1469.7 2634.4H1514.2M1469.7 2742.5H1514.2" stroke="#3b3532" stroke-width="5.5" fill="none"/><rect x="1449" y="2674.5" width="85.8" height="26.8" fill="#94a53a" stroke="#3b3532" stroke-width="5.2"/><path d="M1449 2690.7H1534.8" stroke="#3b3532" stroke-width="5.2"/>
<path d="M1599.7 2651.9V2753.2" stroke="#3b3532" stroke-width="4.8" fill="none"/><path d="M1577.4 2651.9H1621.9M1577.4 2753.2H1621.9" stroke="#3b3532" stroke-width="5.5" fill="none"/><rect x="1556.8" y="2690.7" width="85.8" height="24.7" fill="#cda585" stroke="#3b3532" stroke-width="5.2"/><path d="M1556.8 2704.7H1642.6" stroke="#3b3532" stroke-width="5.2"/>
<path d="M1707.4 2039.2V2642.4" stroke="#3b3532" stroke-width="4.8" fill="none"/><path d="M1685.1 2039.2H1729.6M1685.1 2642.4H1729.6" stroke="#3b3532" stroke-width="5.5" fill="none"/><rect x="1664.5" y="2265.2" width="85.8" height="151.4" fill="#8dbde1" stroke="#3b3532" stroke-width="5.2"/><path d="M1664.5 2317.6H1750.3" stroke="#3b3532" stroke-width="5.2"/>
<path d="M244.3 2029V2867.2" stroke="#111111" stroke-width="5.6" fill="none"/>
<path d="M241.6 2867.2H1774.8" stroke="#111111" stroke-width="5.6" fill="none"/>
<path d="M244.3 2087.4H255.9M244.3 2202.9H255.9M244.3 2318.5H255.9M244.3 2434.4H255.9M244.3 2550H255.9M244.3 2665.5H255.9M244.3 2781H255.9" stroke="#111111" stroke-width="5.0" fill="none"/>
<text class="s" x="236.6" y="2101.2" font-size="35.5" text-anchor="end" textLength="103.6" lengthAdjust="spacingAndGlyphs" fill="#111">0.001 2</text>
<text class="s" x="236.6" y="2216.7" font-size="35.5" text-anchor="end" textLength="103.6" lengthAdjust="spacingAndGlyphs" fill="#111">0.001 0</text>
<text class="s" x="236.6" y="2332.3" font-size="35.5" text-anchor="end" textLength="103.6" lengthAdjust="spacingAndGlyphs" fill="#111">0.000 8</text>
<text class="s" x="236.6" y="2448.2" font-size="35.5" text-anchor="end" textLength="103.6" lengthAdjust="spacingAndGlyphs" fill="#111">0.000 6</text>
<text class="s" x="236.6" y="2563.8" font-size="35.5" text-anchor="end" textLength="103.6" lengthAdjust="spacingAndGlyphs" fill="#111">0.000 4</text>
<text class="s" x="236.6" y="2679.3" font-size="35.5" text-anchor="end" textLength="103.6" lengthAdjust="spacingAndGlyphs" fill="#111">0.000 2</text>
<text class="s" x="236.6" y="2794.8" font-size="35.5" text-anchor="end" textLength="103.6" lengthAdjust="spacingAndGlyphs" fill="#111">0.000 0</text>
<path d="M306.9 2854.8V2867.2M414.6 2854.8V2867.2M522.4 2854.8V2867.2M630.1 2854.8V2867.2M737.8 2854.8V2867.2M845.5 2854.8V2867.2M953.3 2854.8V2867.2M1061 2854.8V2867.2M1168.7 2854.8V2867.2M1276.5 2854.8V2867.2M1384.2 2854.8V2867.2M1491.9 2854.8V2867.2M1599.7 2854.8V2867.2M1707.4 2854.8V2867.2" stroke="#111111" stroke-width="5.0" fill="none"/>
<text class="n" x="308.4" y="2910.5" font-size="32.5" text-anchor="middle" textLength="53.3" lengthAdjust="spacingAndGlyphs" fill="#262626" stroke="#fff" stroke-width="0.7">DJ1</text>
<text class="n" x="414.8" y="2910.5" font-size="32.5" text-anchor="middle" textLength="54.5" lengthAdjust="spacingAndGlyphs" fill="#262626" stroke="#fff" stroke-width="0.7">DJ2</text>
<text class="n" x="521.4" y="2910.5" font-size="32.5" text-anchor="middle" textLength="54.5" lengthAdjust="spacingAndGlyphs" fill="#262626" stroke="#fff" stroke-width="0.7">DJ3</text>
<text class="n" x="629.7" y="2910.5" font-size="32.5" text-anchor="middle" textLength="54.5" lengthAdjust="spacingAndGlyphs" fill="#262626" stroke="#fff" stroke-width="0.7">DJ4</text>
<text class="n" x="737.1" y="2910.5" font-size="32.5" text-anchor="middle" textLength="53.7" lengthAdjust="spacingAndGlyphs" fill="#262626" stroke="#fff" stroke-width="0.7">DJ5</text>
<text class="n" x="843.1" y="2910.5" font-size="32.5" text-anchor="middle" textLength="42" lengthAdjust="spacingAndGlyphs" fill="#262626" stroke="#fff" stroke-width="0.7">YZ</text>
<text class="n" x="954.4" y="2910.5" font-size="32.5" text-anchor="middle" textLength="59" lengthAdjust="spacingAndGlyphs" fill="#262626" stroke="#fff" stroke-width="0.7">CT0</text>
<text class="n" x="1062" y="2910.5" font-size="32.5" text-anchor="middle" textLength="59" lengthAdjust="spacingAndGlyphs" fill="#262626" stroke="#fff" stroke-width="0.7">CT3</text>
<text class="n" x="1169" y="2910.5" font-size="32.5" text-anchor="middle" textLength="58.5" lengthAdjust="spacingAndGlyphs" fill="#262626" stroke="#fff" stroke-width="0.7">CT6</text>
<text class="n" x="1278.2" y="2910.5" font-size="32.5" text-anchor="middle" textLength="58.7" lengthAdjust="spacingAndGlyphs" fill="#262626" stroke="#fff" stroke-width="0.7">CT9</text>
<text class="n" x="1383.2" y="2910.5" font-size="32.5" text-anchor="middle" textLength="76.8" lengthAdjust="spacingAndGlyphs" fill="#262626" stroke="#fff" stroke-width="0.7">CT12</text>
<text class="n" x="1488.1" y="2910.5" font-size="32.5" text-anchor="middle" textLength="76.8" lengthAdjust="spacingAndGlyphs" fill="#262626" stroke="#fff" stroke-width="0.7">CT15</text>
<text class="n" x="1598.1" y="2910.5" font-size="32.5" text-anchor="middle" textLength="76.8" lengthAdjust="spacingAndGlyphs" fill="#262626" stroke="#fff" stroke-width="0.7">CT18</text>
<text class="n" x="1706.4" y="2910.5" font-size="32.5" text-anchor="middle" textLength="76.8" lengthAdjust="spacingAndGlyphs" fill="#262626" stroke="#fff" stroke-width="0.7">CT22</text>
<path d="M242.6 2882.9V2900.8M242.6 2924.3V2960.5M242.6 2971.2V2989.5" stroke="#111111" stroke-width="5" fill="none"/>
<path d="M796.4 2887.2V2906.4M796.4 2929.8V2965.2M796.4 2976.7V2995.9" stroke="#111111" stroke-width="5.8" fill="none"/>
<path d="M1772.3 2888V2906.4M1772.3 2929.8V2965.2M1772.3 2976.7V2995.9" stroke="#111111" stroke-width="5" fill="none"/>
<text class="s" x="454.5" y="2965.5" font-size="36" textLength="144.5" lengthAdjust="spacing" fill="#111">单菌发酵</text>
<text class="s" x="336" y="3004.4" font-size="35" textLength="380.2" lengthAdjust="spacing" fill="#111">Monofungus fermentation</text>
<text class="s" x="1214.2" y="2970.8" font-size="36" textLength="145.4" lengthAdjust="spacing" fill="#111">传统发酵</text>
<text class="s" x="1101.7" y="3009.6" font-size="35" textLength="367.9" lengthAdjust="spacing" fill="#111">Traditional fermentation</text>
<text class="s" x="31" y="2058.4" font-size="34" fill="#111">D</text>
<path d="M693.1 2134.2 L755.5 2097.2 L830.5 2139.8 L904.3 2097.2 L981 2139.8 L1055.6 2097.2 L1131.1 2139.8 L1206.1 2097.2 L1281.6 2139.8 L1357.5 2097.2" stroke="#151515" stroke-width="4.6" fill="none" stroke-linejoin="round" stroke-linecap="round"/>
<path d="M699.7 2142.5L756.2 2109" stroke="#151515" stroke-width="4.6" fill="none" stroke-linecap="round"/>
<path d="M829.7 2128.2L899.1 2088.1" stroke="#151515" stroke-width="4.6" fill="none" stroke-linecap="round"/>
<path d="M980.3 2128.1L1050.4 2088.1" stroke="#151515" stroke-width="4.6" fill="none" stroke-linecap="round"/>
<text class="s" x="757.2" y="2078.1" font-size="35" text-anchor="middle" fill="#111">1</text>
<text class="s" x="682.1" y="2151.3" font-size="35" text-anchor="middle" textLength="21.5" lengthAdjust="spacingAndGlyphs" fill="#111">O</text>
<text class="s" x="832.2" y="2165.5" font-size="35" text-anchor="middle" fill="#111">2</text>
<text class="s" x="908.5" y="2079" font-size="35" text-anchor="middle" fill="#111">3</text>
<text class="s" x="983.1" y="2164.2" font-size="35" text-anchor="middle" fill="#111">4</text>
<text class="s" x="1058.2" y="2078.1" font-size="35" text-anchor="middle" fill="#111">5</text>
<text class="s" x="1133.2" y="2165.5" font-size="35" text-anchor="middle" fill="#111">6</text>
<text class="s" x="1209.1" y="2077.3" font-size="35" text-anchor="middle" fill="#111">7</text>
<text class="s" x="1284.1" y="2165.5" font-size="35" text-anchor="middle" fill="#111">8</text>
<text class="s" x="1374.1" y="2088.8" font-size="35" text-anchor="middle" fill="#111">9</text>
<text class="s" x="879.5" y="2258.8" font-size="35" textLength="303.2" lengthAdjust="spacing" fill="#111">(<tspan font-style="italic">E,E</tspan>)-2,4-Nonadienal</text>
<text class="s" transform="translate(29.6 2676) rotate(-90)" font-size="35.5" textLength="454.8" lengthAdjust="spacing" fill="#111">(<tspan font-style="italic">E,E</tspan>)-2,4-<tspan font-size="35.5">壬二烯醛相对含量</tspan></text>
<text class="s" transform="translate(76.7 2735) rotate(-90)" font-size="35.5" textLength="573.8" lengthAdjust="spacing" fill="#111">(<tspan font-style="italic">E,E</tspan>)-2,4-Nonadienal relative amount</text>
</g>
<g>
<path d="M2195.4 2037.9V2797.5" stroke="#3b3532" stroke-width="4.8" fill="none"/><path d="M2173.2 2037.9H2217.7M2173.2 2797.5H2217.7" stroke="#3b3532" stroke-width="5.5" fill="none"/><rect x="2152.5" y="2322.3" width="85.8" height="189.8" fill="#e57dae" stroke="#3b3532" stroke-width="5.2"/><path d="M2152.5 2463H2238.3" stroke="#3b3532" stroke-width="5.2"/>
<path d="M2303.2 2085.7V2369.5" stroke="#3b3532" stroke-width="4.8" fill="none"/><path d="M2280.9 2085.7H2325.4M2280.9 2369.5H2325.4" stroke="#3b3532" stroke-width="5.5" fill="none"/><rect x="2260.3" y="2192.7" width="85.8" height="70.9" fill="#9fb7dc" stroke="#3b3532" stroke-width="5.2"/><path d="M2260.3 2254.9H2346.1" stroke="#3b3532" stroke-width="5.2"/>
<path d="M2411 2188.9V2433.5" stroke="#3b3532" stroke-width="4.8" fill="none"/><path d="M2388.7 2188.9H2433.2M2388.7 2433.5H2433.2" stroke="#3b3532" stroke-width="5.5" fill="none"/><rect x="2368.1" y="2280.5" width="85.8" height="60.7" fill="#e67e35" stroke="#3b3532" stroke-width="5.2"/><path d="M2368.1 2303.5H2453.9" stroke="#3b3532" stroke-width="5.2"/>
<path d="M2518.7 2183.3V2317.1" stroke="#3b3532" stroke-width="4.8" fill="none"/><path d="M2496.5 2183.3H2541M2496.5 2317.1H2541" stroke="#3b3532" stroke-width="5.5" fill="none"/><rect x="2475.8" y="2233.2" width="85.8" height="34.6" fill="#62b54b" stroke="#3b3532" stroke-width="5.2"/><path d="M2475.8 2244.7H2561.6" stroke="#3b3532" stroke-width="5.2"/>
<path d="M2626.5 2091.7V2586.9" stroke="#3b3532" stroke-width="4.8" fill="none"/><path d="M2604.3 2091.7H2648.8M2604.3 2586.9H2648.8" stroke="#3b3532" stroke-width="5.5" fill="none"/><rect x="2583.6" y="2277.5" width="85.8" height="123.8" fill="#bc849d" stroke="#3b3532" stroke-width="5.2"/><path d="M2583.6 2313.8H2669.4" stroke="#3b3532" stroke-width="5.2"/>
<path d="M2734.3 2316.3V2701.6" stroke="#3b3532" stroke-width="4.8" fill="none"/><path d="M2712.1 2316.3H2756.6M2712.1 2701.6H2756.6" stroke="#3b3532" stroke-width="5.5" fill="none"/><rect x="2691.4" y="2460.9" width="85.8" height="96.9" fill="#45628f" stroke="#3b3532" stroke-width="5.2"/><path d="M2691.4 2538.5H2777.2" stroke="#3b3532" stroke-width="5.2"/>
<path d="M2842.1 2501.4V2682.9" stroke="#3b3532" stroke-width="4.8" fill="none"/><path d="M2819.8 2501.4H2864.3M2819.8 2682.9H2864.3" stroke="#3b3532" stroke-width="5.5" fill="none"/><rect x="2799.2" y="2569.2" width="85.8" height="46.5" fill="#f28b7b" stroke="#3b3532" stroke-width="5.2"/><path d="M2799.2 2602.4H2885" stroke="#3b3532" stroke-width="5.2"/>
<path d="M2949.9 2443.4V2675.6" stroke="#3b3532" stroke-width="4.8" fill="none"/><path d="M2927.6 2443.4H2972.1M2927.6 2675.6H2972.1" stroke="#3b3532" stroke-width="5.5" fill="none"/><rect x="2907" y="2530.4" width="85.8" height="58" fill="#447c4d" stroke="#3b3532" stroke-width="5.2"/><path d="M2907 2578.1H2992.8" stroke="#3b3532" stroke-width="5.2"/>
<path d="M3057.6 2513.7V2690.5" stroke="#3b3532" stroke-width="4.8" fill="none"/><path d="M3035.4 2513.7H3079.9M3035.4 2690.5H3079.9" stroke="#3b3532" stroke-width="5.5" fill="none"/><rect x="3014.7" y="2580.2" width="85.8" height="44.5" fill="#e99a38" stroke="#3b3532" stroke-width="5.2"/><path d="M3014.7 2623H3100.5" stroke="#3b3532" stroke-width="5.2"/>
<path d="M3165.4 2572.1V2715.7" stroke="#3b3532" stroke-width="4.8" fill="none"/><path d="M3143.2 2572.1H3187.7M3143.2 2715.7H3187.7" stroke="#3b3532" stroke-width="5.5" fill="none"/><rect x="3122.5" y="2625.4" width="85.8" height="36.4" fill="#ec6552" stroke="#3b3532" stroke-width="5.2"/><path d="M3122.5 2651H3208.3" stroke="#3b3532" stroke-width="5.2"/>
<path d="M3273.2 2353.4V2818.4" stroke="#3b3532" stroke-width="4.8" fill="none"/><path d="M3250.9 2353.4H3295.4M3250.9 2818.4H3295.4" stroke="#3b3532" stroke-width="5.5" fill="none"/><rect x="3230.3" y="2527.4" width="85.8" height="117.3" fill="#cbbb3f" stroke="#3b3532" stroke-width="5.2"/><path d="M3230.3 2633.5H3316.1" stroke="#3b3532" stroke-width="5.2"/>
<path d="M3381 2557.6V2675.6" stroke="#3b3532" stroke-width="4.8" fill="none"/><path d="M3358.7 2557.6H3403.2M3358.7 2675.6H3403.2" stroke="#3b3532" stroke-width="5.5" fill="none"/><rect x="3338.1" y="2601.1" width="85.8" height="30.8" fill="#94a53a" stroke="#3b3532" stroke-width="5.2"/><path d="M3338.1 2617.8H3423.9" stroke="#3b3532" stroke-width="5.2"/>
<path d="M3488.8 2622.8V2635.7" stroke="#3b3532" stroke-width="4.8" fill="none"/><path d="M3466.5 2622.8H3511M3466.5 2635.7H3511" stroke="#3b3532" stroke-width="5.5" fill="none"/><rect x="3443.3" y="2624.8" width="91" height="8.1" fill="#3b3532"/>
<path d="M3596.5 2107.4V2680.3" stroke="#3b3532" stroke-width="4.8" fill="none"/><path d="M3574.3 2107.4H3618.8M3574.3 2680.3H3618.8" stroke="#3b3532" stroke-width="5.5" fill="none"/><rect x="3553.6" y="2321.4" width="85.8" height="144" fill="#8dbde1" stroke="#3b3532" stroke-width="5.2"/><path d="M3553.6 2397.3H3639.4" stroke="#3b3532" stroke-width="5.2"/>
<path d="M2131.5 2026.9V2864.6" stroke="#111111" stroke-width="5.6" fill="none"/>
<path d="M2128.8 2864.6H3660.9" stroke="#111111" stroke-width="5.6" fill="none"/>
<path d="M2131.5 2145H2143.1M2131.5 2416.1H2143.1M2131.5 2686.8H2143.1" stroke="#111111" stroke-width="5.0" fill="none"/>
<text class="s" x="2125.5" y="2154" font-size="35.5" text-anchor="end" textLength="103.2" lengthAdjust="spacingAndGlyphs" fill="#111">0.001 0</text>
<text class="s" x="2125.5" y="2425.1" font-size="35.5" text-anchor="end" textLength="103.2" lengthAdjust="spacingAndGlyphs" fill="#111">0.000 5</text>
<text class="s" x="2125.5" y="2695.8" font-size="35.5" text-anchor="end" textLength="103.2" lengthAdjust="spacingAndGlyphs" fill="#111">0.000 0</text>
<path d="M2195.4 2852.2V2864.6M2303.2 2852.2V2864.6M2411 2852.2V2864.6M2518.7 2852.2V2864.6M2626.5 2852.2V2864.6M2734.3 2852.2V2864.6M2842.1 2852.2V2864.6M2949.9 2852.2V2864.6M3057.6 2852.2V2864.6M3165.4 2852.2V2864.6M3273.2 2852.2V2864.6M3381 2852.2V2864.6M3488.8 2852.2V2864.6M3596.5 2852.2V2864.6" stroke="#111111" stroke-width="5.0" fill="none"/>
<text class="n" x="2194.2" y="2907.1" font-size="32.5" text-anchor="middle" textLength="53.3" lengthAdjust="spacingAndGlyphs" fill="#262626" stroke="#fff" stroke-width="0.7">DJ1</text>
<text class="n" x="2300.3" y="2907.1" font-size="32.5" text-anchor="middle" textLength="54.5" lengthAdjust="spacingAndGlyphs" fill="#262626" stroke="#fff" stroke-width="0.7">DJ2</text>
<text class="n" x="2407.1" y="2907.1" font-size="32.5" text-anchor="middle" textLength="54.5" lengthAdjust="spacingAndGlyphs" fill="#262626" stroke="#fff" stroke-width="0.7">DJ3</text>
<text class="n" x="2515.2" y="2907.1" font-size="32.5" text-anchor="middle" textLength="54.5" lengthAdjust="spacingAndGlyphs" fill="#262626" stroke="#fff" stroke-width="0.7">DJ4</text>
<text class="n" x="2623.1" y="2907.1" font-size="32.5" text-anchor="middle" textLength="53.7" lengthAdjust="spacingAndGlyphs" fill="#262626" stroke="#fff" stroke-width="0.7">DJ5</text>
<text class="n" x="2725" y="2907.1" font-size="32.5" text-anchor="middle" textLength="42" lengthAdjust="spacingAndGlyphs" fill="#262626" stroke="#fff" stroke-width="0.7">YZ</text>
<text class="n" x="2836.5" y="2907.1" font-size="32.5" text-anchor="middle" textLength="59" lengthAdjust="spacingAndGlyphs" fill="#262626" stroke="#fff" stroke-width="0.7">CT0</text>
<text class="n" x="2944.2" y="2907.1" font-size="32.5" text-anchor="middle" textLength="59" lengthAdjust="spacingAndGlyphs" fill="#262626" stroke="#fff" stroke-width="0.7">CT3</text>
<text class="n" x="3051.2" y="2907.1" font-size="32.5" text-anchor="middle" textLength="58.5" lengthAdjust="spacingAndGlyphs" fill="#262626" stroke="#fff" stroke-width="0.7">CT6</text>
<text class="n" x="3159.5" y="2907.1" font-size="32.5" text-anchor="middle" textLength="58.7" lengthAdjust="spacingAndGlyphs" fill="#262626" stroke="#fff" stroke-width="0.7">CT9</text>
<text class="n" x="3269.5" y="2907.1" font-size="32.5" text-anchor="middle" textLength="76.8" lengthAdjust="spacingAndGlyphs" fill="#262626" stroke="#fff" stroke-width="0.7">CT12</text>
<text class="n" x="3377.3" y="2907.1" font-size="32.5" text-anchor="middle" textLength="76.8" lengthAdjust="spacingAndGlyphs" fill="#262626" stroke="#fff" stroke-width="0.7">CT15</text>
<text class="n" x="3485.2" y="2907.1" font-size="32.5" text-anchor="middle" textLength="76.8" lengthAdjust="spacingAndGlyphs" fill="#262626" stroke="#fff" stroke-width="0.7">CT18</text>
<text class="n" x="3588.4" y="2907.1" font-size="32.5" text-anchor="middle" textLength="76.8" lengthAdjust="spacingAndGlyphs" fill="#262626" stroke="#fff" stroke-width="0.7">CT22</text>
<path d="M2131.5 2877.4V2895.7M2131.5 2919.2V2955.4M2131.5 2966.9V2984" stroke="#111111" stroke-width="5" fill="none"/>
<path d="M2685.3 2883.8V2902.1M2685.3 2925.6V2961M2685.3 2972.5V2990.8" stroke="#111111" stroke-width="5.8" fill="none"/>
<path d="M3660.9 2883.8V2902.1M3660.9 2925.6V2961M3660.9 2972.5V2990.8" stroke="#111111" stroke-width="5" fill="none"/>
<text class="s" x="2363.4" y="2963.5" font-size="36" textLength="142.8" lengthAdjust="spacing" fill="#111">单菌发酵</text>
<text class="s" x="2244.5" y="3001" font-size="35" textLength="379.4" lengthAdjust="spacing" fill="#111">Monofungus fermentation</text>
<text class="s" x="3122.4" y="2970.8" font-size="36" textLength="144.5" lengthAdjust="spacing" fill="#111">传统发酵</text>
<text class="s" x="3010.3" y="3009.6" font-size="35" textLength="367" lengthAdjust="spacing" fill="#111">Traditional fermentation</text>
<text class="s" x="1958.4" y="2058.4" font-size="34" fill="#111">E</text>
<path d="M2736.9 2147 L2798.4 2109.6 L2873.8 2152.2 L2949.3 2109.6 L3024.3 2152.2 L3099.8 2109.6 L3174.8 2152.2 L3250.3 2109.6 L3325.8 2152.2" stroke="#151515" stroke-width="4.6" fill="none" stroke-linejoin="round" stroke-linecap="round"/>
<path d="M2743.6 2155.2L2799.2 2121.4" stroke="#151515" stroke-width="4.6" fill="none" stroke-linecap="round"/>
<path d="M2873.2 2140.5L2944.1 2100.5" stroke="#151515" stroke-width="4.6" fill="none" stroke-linecap="round"/>
<text class="s" x="2801.4" y="2090.9" font-size="35" text-anchor="middle" fill="#111">1</text>
<text class="s" x="2726.2" y="2164.1" font-size="35" text-anchor="middle" textLength="21.5" lengthAdjust="spacingAndGlyphs" fill="#111">O</text>
<text class="s" x="2876.4" y="2182.6" font-size="35" text-anchor="middle" fill="#111">2</text>
<text class="s" x="2951.4" y="2090.9" font-size="35" text-anchor="middle" fill="#111">3</text>
<text class="s" x="3027.3" y="2182.6" font-size="35" text-anchor="middle" fill="#111">4</text>
<text class="s" x="3102.4" y="2090.9" font-size="35" text-anchor="middle" fill="#111">5</text>
<text class="s" x="3177.4" y="2183.4" font-size="35" text-anchor="middle" fill="#111">6</text>
<text class="s" x="3252.4" y="2090.1" font-size="35" text-anchor="middle" fill="#111">7</text>
<text class="s" x="3342.8" y="2166.8" font-size="35" text-anchor="middle" fill="#111">8</text>
<text class="s" x="2938.6" y="2272.9" font-size="35" textLength="198.7" lengthAdjust="spacing" fill="#111">(<tspan font-style="italic">E</tspan>)-2-Octenal</text>
<text class="s" transform="translate(1930.5 2621) rotate(-90)" font-size="35.5" textLength="349" lengthAdjust="spacing" fill="#111">(<tspan font-style="italic">E</tspan>)-2-<tspan font-size="35.5">辛烯醛相对含量</tspan></text>
<text class="s" transform="translate(1970.9 2670) rotate(-90)" font-size="35.5" textLength="448.3" lengthAdjust="spacing" fill="#111">(<tspan font-style="italic">E</tspan>)-2-Octenal relative amount</text>
</g>
</svg></body></html>
